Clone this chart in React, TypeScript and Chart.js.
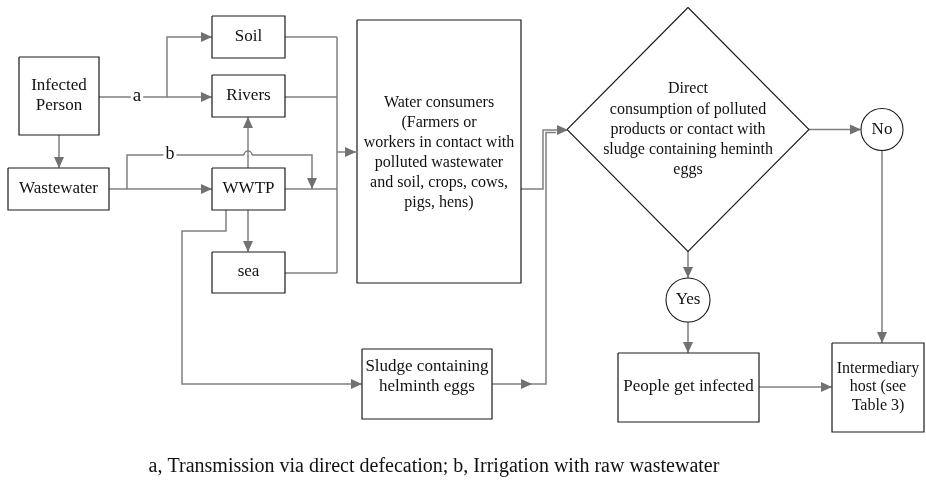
import React, { useEffect, useRef } from "react";
import { Chart, registerables } from "chart.js";

Chart.register(...registerables);

// ---- Diagram data (in chart units: x 0..926, y 0..483) ----
const nodeNames = [
  "Infected\nPerson",
  "Soil",
  "Rivers",
  "Wastewater",
  "WWTP",
  "sea",
  "Water consumers\n(Farmers or\nworkers in contact with\npolluted wastewater\nand soil, crops, cows,\npigs, hens)",
  "Sludge containing\nhelminth eggs",
  "People get infected",
  "Intermediary\nhost (see\nTable 3)",
];
const nodeLeft = [19, 212, 212, 8, 212, 212, 357, 362, 618, 832];
const nodeTop = [57, 16, 75, 168, 168, 252, 20, 349, 353, 343];
const nodeRight = [99, 285, 285, 109, 285, 285, 521, 492, 759, 924];
const nodeBottom = [135, 58, 117, 210, 210, 293, 283, 419, 422, 432];
const nodeTextY = [96, 37, 96, 189, 189, 272, 152.5, 377, 387, 387];

const decisionText =
  "Direct\nconsumption of polluted\nproducts or contact with\nsludge containing heminth\neggs";
const decisionCenter = [688, 129.5];
const decisionHalf = [121, 122];

const circleNames = ["No", "Yes"];
const circleX = [882, 688];
const circleY = [129.5, 300];
const circleR = [21, 22];

// connectors: polylines, with or without arrowhead at the end
const connectors: { pts: number[][]; arrow: boolean }[] = [
  { pts: [[99, 97], [167, 97], [167, 37], [212, 37]], arrow: true },
  { pts: [[167, 97], [212, 97]], arrow: true },
  { pts: [[59, 135], [59, 168]], arrow: true },
  { pts: [[109, 189], [212, 189]], arrow: true },
  { pts: [[127, 189], [127, 155], [244, 155]], arrow: false },
  { pts: [[252, 155], [312, 155], [312, 189]], arrow: true },
  { pts: [[248, 168], [248, 117]], arrow: true },
  { pts: [[248, 210], [248, 252]], arrow: true },
  { pts: [[226, 210], [226, 231], [182, 231], [182, 384], [362, 384]], arrow: true },
  { pts: [[285, 37], [337, 37]], arrow: false },
  { pts: [[285, 97], [337, 97]], arrow: false },
  { pts: [[285, 189], [337, 189]], arrow: false },
  { pts: [[285, 273], [337, 273]], arrow: false },
  { pts: [[337, 37], [337, 273]], arrow: false },
  { pts: [[337, 152], [356, 152]], arrow: true },
  { pts: [[521, 189], [543, 189], [543, 130], [568, 130]], arrow: true },
  { pts: [[492, 384], [532, 384]], arrow: true },
  { pts: [[532, 384], [546, 384], [546, 132.5], [556, 132.5]], arrow: false },
  { pts: [[809, 129.5], [861, 129.5]], arrow: true },
  { pts: [[882, 150.5], [882, 343]], arrow: true },
  { pts: [[688, 251.5], [688, 278]], arrow: true },
  { pts: [[688, 322], [688, 353]], arrow: true },
  { pts: [[759, 387], [832, 387]], arrow: true },
];

const hopPoint = [248, 155];
const edgeLabels = ["a", "b"];
const edgeLabelX = [137, 170];
const edgeLabelY = [97, 155];

const caption =
  "a, Transmission via direct defecation; b, Irrigation with raw wastewater";
const captionPos = [434, 467];

const LINE = "#808080";
const ARROW = "#717171";
const EDGE = "#1a1a1a";
const FONT = '"Liberation Serif", "Times New Roman", serif';

export default function App() {
  const ref = useRef<HTMLCanvasElement | null>(null);

  useEffect(() => {
    if (!ref.current) return;
    const datasets: any[] = [];

    connectors.forEach((c) => {
      datasets.push({
        type: "line",
        data: c.pts.map((p) => ({ x: p[0], y: p[1] })),
        borderColor: LINE,
        borderWidth: 1.5,
        pointRadius: 0,
        fill: false,
        tension: 0,
        clip: false,
        order: 5,
      });
    });

    nodeNames.forEach((_, i) => {
      const l = nodeLeft[i], t = nodeTop[i], r = nodeRight[i], b = nodeBottom[i];
      datasets.push({
        type: "line",
        data: [
          { x: l, y: t },
          { x: r, y: t },
          { x: r, y: b },
          { x: l, y: b },
          { x: l, y: t },
        ],
        borderColor: EDGE,
        borderWidth: 1.2,
        pointRadius: 0,
        fill: false,
        tension: 0,
        clip: false,
        order: 3,
      });
    });

    const [cx, cy] = decisionCenter;
    const [hw, hh] = decisionHalf;
    datasets.push({
      type: "line",
      data: [
        { x: cx, y: cy - hh },
        { x: cx + hw, y: cy },
        { x: cx, y: cy + hh },
        { x: cx - hw, y: cy },
        { x: cx, y: cy - hh },
      ],
      borderColor: EDGE,
      borderWidth: 1.1,
      pointRadius: 0,
      fill: false,
      tension: 0,
      clip: false,
      order: 3,
    });

    datasets.push({
      type: "scatter",
      data: circleX.map((x, i) => ({ x, y: circleY[i] })),
      pointRadius: circleR,
      pointStyle: "circle",
      backgroundColor: "#ffffff",
      borderColor: EDGE,
      borderWidth: 1.1,
      clip: false,
      order: 1,
    });

    const overlay = {
      id: "overlay",
      afterDatasetsDraw(chart: any) {
        const ctx = chart.ctx;
        const xs = chart.scales.x;
        const ys = chart.scales.y;
        const px = (v: number) => xs.getPixelForValue(v);
        const py = (v: number) => ys.getPixelForValue(v);
        ctx.save();

        // arrowheads
        connectors.forEach((c) => {
          if (!c.arrow) return;
          const n = c.pts.length;
          const [x1, y1] = c.pts[n - 2];
          const [x2, y2] = c.pts[n - 1];
          const ax = px(x2), ay = py(y2);
          const ang = Math.atan2(py(y2) - py(y1), px(x2) - px(x1));
          const len = 11, half = 5;
          ctx.beginPath();
          ctx.moveTo(ax, ay);
          ctx.lineTo(ax - len * Math.cos(ang) - half * Math.sin(ang), ay - len * Math.sin(ang) + half * Math.cos(ang));
          ctx.lineTo(ax - len * Math.cos(ang) + half * Math.sin(ang), ay - len * Math.sin(ang) - half * Math.cos(ang));
          ctx.closePath();
          ctx.fillStyle = ARROW;
          ctx.fill();
        });

        // hop over crossing
        ctx.beginPath();
        ctx.strokeStyle = LINE;
        ctx.lineWidth = 1.5;
        ctx.arc(px(hopPoint[0]), py(hopPoint[1]), 4, Math.PI, 0);
        ctx.stroke();

        ctx.textAlign = "center";
        ctx.textBaseline = "middle";
        ctx.fillStyle = "#111";

        // node text
        nodeNames.forEach((name, i) => {
          const lines = name.split("\n");
          const multi = lines.length > 2;
          const size = multi ? 16 : 17;
          const lh = i === 9 ? 18.5 : 20;
          ctx.font = `${size}px ${FONT}`;
          const cxn = px((nodeLeft[i] + nodeRight[i]) / 2);
          const y0 = py(nodeTextY[i]) - ((lines.length - 1) * lh) / 2;
          lines.forEach((ln, k) => ctx.fillText(ln, cxn, y0 + k * lh));
        });

        // decision text
        {
          const lines = decisionText.split("\n");
          ctx.font = `16px ${FONT}`;
          const y0 = py(decisionCenter[1]) - ((lines.length - 1) * 20.2) / 2;
          lines.forEach((ln, k) => ctx.fillText(ln, px(decisionCenter[0]), y0 + k * 20.2));
        }

        // circle text
        ctx.font = `17px ${FONT}`;
        circleNames.forEach((nm, i) => ctx.fillText(nm, px(circleX[i]), py(circleY[i])));

        // edge labels with white background
        edgeLabels.forEach((lb, i) => {
          const size = i === 0 ? 19 : 18;
          ctx.font = `${size}px ${FONT}`;
          const w = ctx.measureText(lb).width + 4;
          ctx.fillStyle = "#ffffff";
          ctx.fillRect(px(edgeLabelX[i]) - w / 2, py(edgeLabelY[i]) - 3, w, 6);
          ctx.fillStyle = "#111";
          ctx.fillText(lb, px(edgeLabelX[i]), py(edgeLabelY[i]) - 1);
        });

        // caption
        ctx.font = `20px ${FONT}`;
        ctx.fillText(caption, px(captionPos[0]), py(captionPos[1]));

        ctx.restore();
      },
    };

    const chart = new Chart(ref.current, {
      type: "scatter",
      data: { datasets },
      options: {
        responsive: false,
        animation: false,
        events: [],
        layout: { padding: 0, autoPadding: false },
        plugins: { legend: { display: false }, tooltip: { enabled: false } },
        scales: {
          x: { type: "linear", min: 0, max: 926, display: false },
          y: { type: "linear", min: 0, max: 483, reverse: true, display: false },
        },
      },
      plugins: [overlay],
    } as any);
    return () => chart.destroy();
  }, []);

  return (
    <div style={{ position: "fixed", left: 0, top: 0, width: 926, height: 483, background: "#ffffff" }}>
      <canvas ref={ref} width={926} height={483} style={{ width: 926, height: 483, display: "block" }} />
    </div>
  );
}
